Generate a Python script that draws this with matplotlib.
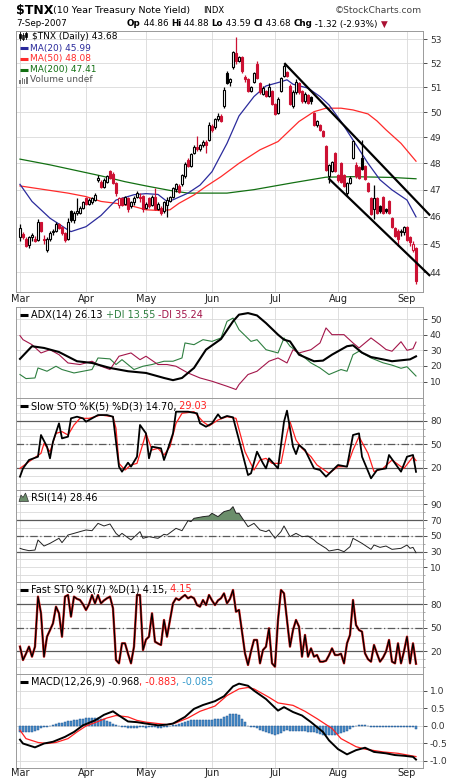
import numpy as np
import pandas as pd
import matplotlib
matplotlib.use('Agg')
import matplotlib.pyplot as plt
import matplotlib.transforms as mtrans
from matplotlib.lines import Line2D
from matplotlib.patches import Rectangle, Polygon
from matplotlib.text import Annotation
from matplotlib.ticker import FixedLocator, NullLocator, FixedFormatter, NullFormatter

plt.rcParams['font.family'] = ['DejaVu Sans']

# ---------------- data ----------------
holidays = ['2007-04-06', '2007-05-28', '2007-07-04', '2007-09-03']
opens = [45.25,45.38,45.20,44.97,45.25,45.20,45.15,45.81,45.20,44.78,
         45.20,45.43,45.48,45.71,45.62,45.39,45.20,46.19,45.86,46.14,
         46.14,46.33,46.67,46.47,46.52,46.62,47.35,47.30,47.11,47.30,
         47.70,47.60,47.25,46.43,46.67,46.48,46.67,46.38,46.52,46.71,
         46.71,46.76,46.33,46.67,46.43,46.71,46.28,46.33,46.19,46.43,
         46.57,46.71,47.01,47.15,47.20,47.50,48.14,47.90,48.39,48.64,
         48.54,48.69,48.84,48.90,49.45,49.40,49.71,49.86,50.23,51.58,
         51.22,51.83,52.41,52.09,52.26,51.44,51.33,50.85,51.22,51.97,
         51.17,50.75,50.85,50.64,50.85,50.33,49.97,50.85,51.48,51.64,
         51.06,50.23,50.80,51.17,50.85,50.44,50.70,50.59,49.97,49.50,
         49.50,49.25,48.65,47.50,47.70,48.40,47.55,48.00,47.55,46.86,
         47.25,48.20,47.95,47.85,48.20,47.90,47.25,46.67,46.28,46.67,
         46.38,46.71,46.28,46.57,45.95,45.58,45.48,45.44,45.44,45.62,
         45.24,44.80,44.86]
highs = [45.72,45.43,45.25,45.30,45.39,45.30,45.91,45.81,45.34,45.25,
         45.48,45.53,45.81,45.76,45.67,45.43,45.95,46.24,46.19,46.67,
         46.38,46.57,46.71,46.67,46.71,46.86,47.55,47.35,47.45,47.55,
         47.75,47.65,47.30,46.71,46.71,46.76,46.71,46.57,46.76,46.96,
         46.86,46.81,46.52,46.71,46.81,47.06,46.52,46.38,46.57,46.71,
         46.76,47.11,47.25,47.20,47.60,48.04,48.19,48.39,48.69,49.04,
         48.74,48.89,48.89,49.60,49.55,49.76,49.96,49.91,51.01,51.68,
         51.38,52.51,53.09,52.31,52.31,51.49,51.38,51.06,51.63,52.08,
         51.22,51.06,50.90,51.17,50.90,50.38,50.59,51.43,51.97,51.69,
         51.12,50.90,51.33,51.22,50.90,50.80,50.75,50.64,50.02,49.70,
         49.55,49.30,48.70,47.99,48.10,48.45,47.60,48.05,47.60,47.30,
         47.50,48.90,48.05,47.90,48.90,47.95,47.30,46.71,47.16,46.71,
         46.43,46.76,46.33,46.62,46.00,45.62,45.53,45.53,45.67,45.67,
         45.29,45.10,44.88]
lows = [45.11,45.20,44.88,44.87,45.11,45.06,45.11,45.43,45.02,44.73,
        45.11,45.34,45.43,45.53,45.34,45.06,45.15,45.81,45.76,46.05,
        46.10,46.28,46.43,46.43,46.47,46.57,47.30,47.06,47.06,47.25,
        47.40,47.20,46.76,46.33,46.38,46.43,46.18,46.33,46.43,46.67,
        46.52,46.18,46.28,46.33,46.38,46.23,46.24,46.05,46.14,45.99,
        46.52,46.67,46.91,46.86,47.15,47.45,47.85,47.85,48.34,48.49,
        48.49,48.64,48.40,48.85,49.20,49.35,49.66,49.61,50.18,51.12,
        51.07,51.77,51.98,52.03,51.61,51.22,50.80,50.80,51.17,51.33,
        50.75,50.70,50.59,50.59,50.28,49.87,49.92,50.80,51.43,51.43,
        50.28,50.18,50.75,50.75,50.38,50.38,50.33,50.33,49.45,49.40,
        49.25,49.00,47.70,47.25,47.65,47.65,47.30,47.25,47.10,46.76,
        47.20,48.15,47.45,47.40,47.75,47.35,46.91,46.05,45.90,46.10,
        46.14,46.10,46.14,46.10,45.58,45.25,44.92,45.29,45.34,45.10,
        44.92,44.70,43.59]
closes = [45.58,45.25,44.92,45.25,45.34,45.11,45.81,45.48,45.15,45.20,
          45.39,45.48,45.71,45.58,45.39,45.15,45.81,45.86,46.14,46.19,
          46.33,46.52,46.47,46.62,46.67,46.81,47.45,47.11,47.35,47.50,
          47.45,47.25,46.86,46.67,46.43,46.71,46.28,46.52,46.67,46.86,
          46.67,46.28,46.48,46.38,46.71,46.28,46.48,46.14,46.52,46.62,
          46.71,47.06,47.20,46.91,47.55,47.99,47.90,48.34,48.64,48.54,
          48.69,48.84,48.70,49.50,49.30,49.71,49.86,49.66,50.90,51.17,
          51.33,52.46,52.09,52.26,51.66,51.33,50.85,51.01,51.58,51.38,
          50.80,50.96,50.64,51.01,50.33,49.92,50.54,51.38,51.87,51.48,
          50.33,50.80,51.22,50.80,50.44,50.75,50.38,50.44,49.50,49.65,
          49.30,49.05,47.75,47.95,48.05,47.70,47.35,47.30,47.15,47.25,
          47.45,48.85,47.50,47.45,47.80,47.40,46.96,46.10,46.67,46.14,
          46.19,46.14,46.19,46.14,45.62,45.29,45.20,45.48,45.62,45.15,
          45.06,45.00,43.68]

ma20_i = [0, 4, 10, 16, 17, 22, 27, 32, 38, 42, 46, 49, 51, 56, 60, 64, 69, 73, 78, 82,
          87, 89, 91, 96, 100, 103, 107, 111, 116, 120, 124, 129, 132]
ma20_v = [47.20, 46.56, 45.94, 45.51, 45.45, 45.63, 46.04, 46.61, 46.81, 46.85, 46.82, 46.56,
          46.62, 46.87, 47.17, 47.68, 48.77, 49.85, 50.63, 51.06, 51.23, 51.31, 51.13, 50.97,
          50.63, 50.29, 49.63, 48.90, 48.00, 47.37, 46.99, 46.61, 45.99]
ma50_i = [0, 16, 22, 27, 32, 38, 42, 47, 50, 53, 58, 62, 67, 73, 80, 86, 93, 98, 102, 107,
          111, 116, 119, 122, 127, 132]
ma50_v = [47.14, 46.87, 46.74, 46.56, 46.49, 46.37, 46.25, 46.22, 46.25, 46.49, 46.80, 47.12,
          47.49, 48.00, 48.52, 48.84, 49.63, 50.02, 50.16, 50.16, 50.09, 49.93, 49.65, 49.30,
          48.77, 48.08]
ma200_i = [0, 10, 27, 35, 42, 50, 56, 69, 78, 91, 102, 111, 124, 132]
ma200_v = [48.16, 47.94, 47.52, 47.30, 47.14, 46.97, 46.87, 46.87, 47.00, 47.26, 47.47, 47.49,
           47.46, 47.41]
trend_upper_i = [88.1, 136.7]
trend_upper_v = [52.0, 46.04]
trend_lower_i = [102.8, 136.7]
trend_lower_v = [47.43, 43.87]

adx_i = [0, 4, 8, 13, 19, 24, 30, 36, 42, 48, 51, 54, 58, 62, 67, 71, 73, 76, 79, 82,
         86, 88, 90, 93, 98, 101, 104, 109, 111, 114, 117, 121, 124, 128, 130, 132]
adx_v = [24.5, 32.6, 31.5, 28.9, 23.0, 21.9, 18.7, 16.6, 15.5, 12.3, 10.9, 12.3, 18.7, 30.4,
         37.2, 48.5, 52.8, 53.8, 52.3, 47.4, 40.0, 36.8, 35.7, 27.2, 23.0, 23.4, 27.2, 32.6,
         33.2, 28.5, 25.7, 24.2, 23.0, 23.8, 24.2, 26.13]
pdi_i = [0, 2, 5, 6, 9, 12, 14, 18, 21, 24, 26, 30, 32, 34, 38, 41, 44, 48, 51, 54,
         55, 58, 61, 64, 67, 69, 71, 73, 77, 79, 82, 86, 88, 90, 93, 97, 100, 103, 107, 109,
         111, 113, 117, 121, 124, 127, 129, 132]
pdi_v = [14.5, 11.9, 12.3, 18.7, 16.6, 19.8, 17.7, 15.5, 16.6, 17.7, 25.1, 24.5, 20.9, 24.0,
         17.7, 19.8, 20.9, 23.0, 23.0, 25.1, 34.7, 33.6, 36.8, 35.7, 37.9, 48.5, 50.6, 43.2,
         35.7, 36.8, 30.4, 28.3, 37.9, 32.6, 28.3, 21.9, 18.7, 14.5, 17.7, 16.6, 27.2, 29.4,
         25.1, 22.0, 20.5, 18.5, 19.5, 13.55]
mdi_i = [0, 1, 4, 7, 10, 13, 16, 20, 24, 27, 30, 33, 37, 40, 42, 46, 49, 52, 56, 60,
         64, 69, 72, 73, 76, 79, 81, 83, 86, 89, 91, 93, 97, 100, 102, 104, 108, 111, 113, 117,
         120, 122, 124, 127, 129, 131, 132]
mdi_v = [39.4, 36.8, 33.6, 28.3, 30.4, 27.2, 21.9, 20.9, 23.0, 19.8, 17.7, 26.2, 28.3, 24.0,
         26.2, 20.9, 20.9, 19.8, 15.5, 12.3, 10.2, 7.0, 4.9, 8.1, 14.5, 16.6, 19.8, 23.0, 25.1,
         21.9, 30.4, 28.3, 30.4, 34.7, 44.3, 40.0, 40.0, 34.7, 31.5, 37.9, 33.6, 30.5, 29.4,
         35.5, 30.0, 31.0, 35.24]

slowk_i = [0, 1, 3, 6, 7, 9, 10, 11, 13, 14, 16, 17, 19, 21, 22, 26, 29, 31, 33, 34,
           36, 37, 39, 40, 42, 43, 44, 47, 48, 49, 51, 52, 56, 59, 60, 62, 64, 66, 67, 69,
           71, 73, 76, 77, 79, 81, 82, 83, 86, 88, 89, 91, 92, 93, 95, 98, 100, 102, 106, 109,
           111, 113, 114, 117, 119, 122, 123, 127, 129, 131, 132]
slowk_v = [8.5, 19.1, 29.8, 34.0, 61.7, 46.8, 31.9, 53.2, 76.6, 57.4, 59.6, 83.0, 85.1, 83.0,
           78.7, 87.2, 87.2, 85.1, 21.3, 14.9, 26.4, 21.3, 34.0, 74.5, 63.8, 31.9, 46.8, 44.7,
           29.8, 40.4, 63.8, 91.5, 91.5, 89.4, 76.6, 72.3, 76.6, 88.1, 83.0, 86.0, 84.3, 55.3,
           10.6, 12.8, 40.4, 25.5, 19.1, 31.9, 19.1, 78.7, 92.8, 46.8, 37.4, 48.9, 42.6, 19.1,
           17.0, 8.5, 23.4, 21.3, 61.7, 63.8, 34.0, 6.4, 17.0, 19.1, 36.2, 14.9, 34.0, 36.2, 14.70]
slowd_i = [0, 3, 7, 8, 10, 12, 14, 16, 18, 20, 23, 27, 31, 32, 33, 35, 37, 39, 42, 44,
           46, 48, 50, 52, 54, 58, 61, 63, 66, 69, 72, 75, 78, 80, 82, 84, 87, 89, 90, 92,
           94, 97, 99, 103, 106, 109, 111, 113, 116, 118, 121, 124, 127, 128, 131, 132]
slowd_v = [19.1, 27.7, 38.3, 51.0, 40.4, 63.8, 66.0, 61.7, 74.5, 83.0, 83.0, 87.2, 85.0, 70.2,
           25.5, 17.0, 23.4, 25.5, 63.8, 42.6, 44.7, 36.2, 46.8, 76.6, 89.4, 91.5, 78.7, 73.2,
           80.9, 85.1, 83.0, 40.4, 17.0, 29.8, 31.9, 25.5, 25.5, 63.8, 78.7, 55.3, 44.7, 34.0,
           23.4, 12.8, 21.3, 21.3, 42.6, 59.6, 38.3, 14.9, 19.1, 29.8, 21.3, 19.1, 34.0, 29.03]

rsi_i = [0, 1, 3, 5, 6, 8, 10, 12, 13, 14, 16, 18, 20, 22, 24, 26, 28, 30, 32, 33,
         34, 37, 40, 41, 43, 46, 48, 49, 52, 54, 56, 57, 58, 61, 63, 64, 66, 68, 70, 71,
         72, 73, 76, 78, 80, 82, 83, 85, 87, 88, 90, 92, 94, 96, 98, 99, 102, 103, 106, 108,
         110, 111, 113, 114, 117, 118, 120, 122, 124, 127, 129, 130, 131, 132]
rsi_v = [34.1, 32.8, 31.1, 31.9, 44.7, 37.0, 40.4, 44.7, 46.8, 41.3, 51.0, 53.1, 55.3, 57.4,
         56.5, 65.8, 62.5, 65.0, 53.1, 49.7, 53.1, 44.7, 55.3, 46.8, 48.9, 46.8, 51.9, 51.0,
         59.5, 56.5, 69.2, 68.0, 72.2, 74.3, 75.2, 78.6, 74.3, 80.7, 82.8, 87.0, 78.6, 78.6,
         61.6, 65.8, 57.4, 55.3, 57.4, 46.8, 55.3, 62.5, 48.9, 53.1, 48.9, 49.7, 44.7, 41.3,
         34.1, 30.7, 32.8, 29.8, 36.2, 46.8, 42.6, 40.4, 32.8, 38.3, 35.3, 37.0, 32.8, 34.1,
         38.3, 34.1, 35.3, 28.46]

fastk = [26, 8.9, 17, 26, 13.2, 26, 89.8, 68.5, 13.2, 38.7,
         47, 55.7, 77, 68.5, 38.7, 89.8, 91.9, 64.3, 89.8, 87,
         85.5, 80, 72.8, 80, 91.9, 81.3, 91.9, 81.3, 85, 87.7,
         89.8, 75, 8.9, 4.7, 30.2, 30.2, 17, 4.7, 26, 91.9,
         91.9, 21.7, 35, 38.7, 68.5, 32.3, 30, 28.1, 60, 38.7,
         60, 81.3, 87.7, 85.5, 89, 91.9, 87.7, 89.8, 87.7, 79.1,
         77, 85.5, 79.1, 91.9, 85, 79.1, 85, 87.7, 94, 81.3,
         87, 98.3, 70.6, 72.8, 45, 17.4, 2.6, 20, 34.5, 34.5,
         4.7, 21.7, 26, 49.4, 4.7, 0.4, 60, 98.3, 94, 60,
         26, 47.2, 60, 51.5, 13.2, 40.9, 13.2, 23.8, 13.2, 15.3,
         6.8, 6.8, 8, 15, 23.8, 15.3, 15.3, 17, 4.7, 30.2,
         40.9, 85.5, 53.6, 47.2, 45.1, 17.4, 10, 6.8, 28.1, 17,
         6.8, 12, 19.6, 34.5, 6.8, 4.7, 30.2, 4.7, 20, 38.7,
         4.7, 30.2, 4.15]

macd_i = [0, 1, 5, 8, 11, 15, 18, 21, 25, 28, 31, 33, 36, 39, 42, 46, 49, 51, 55, 58,
          61, 65, 68, 71, 73, 76, 78, 82, 86, 88, 91, 94, 97, 101, 103, 106, 109, 112, 115, 118,
          122, 125, 128, 131, 132]
macd_v = [-0.40, -0.51, -0.62, -0.51, -0.46, -0.32, -0.18, 0.01, 0.15, 0.31, 0.41, 0.29, 0.12,
          0.10, 0.06, 0.01, 0.03, 0.06, 0.25, 0.48, 0.59, 0.70, 0.84, 1.12, 1.20, 1.14, 1.00,
          0.76, 0.43, 0.53, 0.39, 0.29, 0.10, -0.18, -0.42, -0.67, -0.82, -0.70, -0.63, -0.75,
          -0.79, -0.84, -0.86, -0.89, -0.968]
sig_i = [0, 2, 6, 9, 12, 16, 19, 22, 26, 29, 32, 36, 39, 42, 46, 49, 52, 56, 60, 65,
         69, 73, 76, 78, 83, 86, 91, 95, 99, 104, 107, 112, 115, 121, 126, 132]
sig_v = [-0.13, -0.37, -0.48, -0.51, -0.48, -0.37, -0.18, -0.01, 0.12, 0.22, 0.29, 0.25, 0.15,
         0.10, 0.06, 0.03, 0.08, 0.22, 0.41, 0.56, 0.86, 1.05, 1.09, 1.05, 0.81, 0.65, 0.58,
         0.41, 0.20, -0.08, -0.37, -0.60, -0.67, -0.75, -0.79, -0.883]
hist = [-0.18, -0.18, -0.18, -0.18, -0.18, -0.15, -0.12, -0.08, -0.05, -0.03,
        -0.01, 0.02, 0.06, 0.08, 0.09, 0.10, 0.12, 0.13, 0.15, 0.16,
        0.18, 0.20, 0.21, 0.22, 0.22, 0.22, 0.21, 0.20, 0.18, 0.14,
        0.10, 0.06, 0.03, 0.00, -0.03, -0.05, -0.06, -0.07, -0.07, -0.06,
        -0.05, -0.05, -0.06, -0.05, -0.05, -0.05, -0.06, -0.06, -0.05, -0.03,
        -0.01, 0.01, 0.03, 0.05, 0.08, 0.10, 0.13, 0.15, 0.16, 0.17,
        0.17, 0.17, 0.16, 0.16, 0.17, 0.20, 0.20, 0.20, 0.24, 0.28,
        0.32, 0.33, 0.33, 0.30, 0.20, 0.10, 0.00, -0.03, -0.05, -0.08,
        -0.12, -0.15, -0.18, -0.20, -0.24, -0.27, -0.25, -0.20, -0.15, -0.13,
        -0.14, -0.15, -0.15, -0.15, -0.15, -0.16, -0.17, -0.18, -0.19, -0.22,
        -0.25, -0.27, -0.28, -0.28, -0.27, -0.26, -0.24, -0.22, -0.19, -0.15,
        -0.10, -0.04, 0.00, 0.02, 0.03, 0.02, -0.01, -0.03, -0.04, -0.04,
        -0.04, -0.04, -0.03, -0.03, -0.03, -0.04, -0.05, -0.04, -0.03, -0.03,
        -0.04, -0.05, -0.085]

price_ticks = [44, 45, 46, 47, 48, 49, 50, 51, 52, 53]
adx_ticks = [10, 20, 30, 40, 50]
sto_ticks = [20, 50, 80]
rsi_ticks = [10, 30, 50, 70, 90]
macd_ticks = [-1.0, -0.5, 0.0, 0.5, 1.0]
macd_tick_labels = ['-1.0', '-0.5', '0.0', '0.5', '1.0']

# ---------------- figure ----------------
dates = pd.bdate_range('2007-03-01', '2007-09-07')
dates = dates[~dates.isin(pd.to_datetime(holidays))]
xi = np.arange(len(dates))
month_pos = [i for i in range(len(dates)) if i == 0 or dates[i].month != dates[i - 1].month]
month_lbl = [dates[i].strftime('%b') for i in month_pos]

W, H = 460, 781
fig = plt.figure(figsize=(W / 100, H / 100), dpi=100)
fig.patch.set_facecolor('white')
PX = mtrans.Affine2D().scale(1 / W, -1 / H).translate(0, 1) + fig.transFigure

RED = '#cc1133'
GRID = '#d9d9d9'
DARK = '#5a5a5a'
C20, C50, C200 = '#2b2b9c', '#ff2a2a', '#137013'
CPDI, CMDI = '#2e7f40', '#a3164a'


def panel(top, bottom):
    return fig.add_axes([16 / W, 1 - bottom / H, (423 - 16) / W, (bottom - top) / H])


def style(ax, ylim, ticks, labels, hgrid, log=False, minor=None):
    if log:
        ax.set_yscale('log')
    ax.set_xlim(-1.33, 134.33)
    ax.set_ylim(*ylim)
    ax.yaxis.set_major_locator(FixedLocator(ticks))
    ax.yaxis.set_major_formatter(FixedFormatter(labels))
    ax.yaxis.set_minor_locator(FixedLocator(minor) if minor is not None else NullLocator())
    ax.yaxis.set_minor_formatter(NullFormatter())
    ax.yaxis.tick_right()
    ax.tick_params(axis='y', which='major', labelsize=6.6, length=3, width=0.6,
                   colors='#333333', pad=2)
    ax.tick_params(axis='y', which='minor', length=1.5, width=0.5, colors='#888888')
    ax.set_xticks([])
    for v in hgrid:
        ax.axhline(v, color=GRID, lw=0.6, zorder=0)
    for m in month_pos:
        ax.axvline(m, color=GRID, lw=0.6, zorder=0)
    for s in ax.spines.values():
        s.set_color('#9a9a9a')
        s.set_linewidth(0.7)


def month_labels(ax, off_pt):
    for m, lab in zip(month_pos, month_lbl):
        ax.annotate(lab, xy=(m, 0), xycoords=('data', 'axes fraction'),
                    xytext=(0, -off_pt), textcoords='offset points', ha='center',
                    va='center', fontsize=7, color='#222222', annotation_clip=False)


def chain(x, y, parts, size=6.6, bbox=None):
    first = parts[0]
    t = fig.text(x / W, 1 - y / H, first[0], color=first[1], fontweight=first[2],
                 fontsize=size, ha='left', va='center', parse_math=False, bbox=bbox)
    for s, cc, wt in parts[1:]:
        a = Annotation(s, xy=(1, 0), xycoords=t, ha='left', va='bottom', color=cc,
                       fontweight=wt, fontsize=size, parse_math=False, bbox=bbox)
        fig.add_artist(a)
        t = a
    return t


def hline_ref(ax, vals, dashed=None):
    for v in vals:
        ax.axhline(v, color=DARK, lw=0.9, zorder=1)
    if dashed is not None:
        ax.axhline(dashed, color=DARK, lw=0.9, ls=(0, (6, 2, 1, 2)), zorder=1)


def dash_icon(y, color):
    fig.add_artist(Line2D([20, 28], [y, y], transform=PX, color=color, lw=2.2,
                          solid_capstyle='butt'))


# ---- price panel ----
ax0 = panel(31, 292)
style(ax0, (43.31, 53.35), price_ticks, [str(v) for v in price_ticks], price_ticks, log=True)
o, h, l, c = map(np.array, (opens, highs, lows, closes))
prev = np.r_[c[0], c[:-1]]
col = np.where(c >= prev, 'black', RED)
hollow = c > o
face = np.where(hollow, 'white', col)
ax0.plot(ma200_i, ma200_v, color=C200, lw=0.9, zorder=2)
ax0.plot(ma50_i, ma50_v, color=C50, lw=0.9, zorder=2)
ax0.plot(ma20_i, ma20_v, color=C20, lw=0.9, zorder=2)
ax0.vlines(xi, l, h, colors=col, lw=0.9, zorder=3)
ax0.bar(xi, np.maximum(np.abs(c - o), 0.04), bottom=np.minimum(o, c), width=0.78,
        color=face, edgecolor=col, linewidth=0.8, zorder=4)
ax0.plot(trend_upper_i, trend_upper_v, color='black', lw=1.6, zorder=6, clip_on=False,
         solid_capstyle='butt')
ax0.plot(trend_lower_i, trend_lower_v, color='black', lw=1.6, zorder=6, clip_on=False,
         solid_capstyle='butt')
month_labels(ax0, 4.7)

# ---- ADX ----
ax1 = panel(307, 397.5)
style(ax1, (-0.2, 57.7), adx_ticks, [str(v) for v in adx_ticks], adx_ticks)
ax1.plot(pdi_i, pdi_v, color=CPDI, lw=0.8, zorder=2)
ax1.plot(mdi_i, mdi_v, color=CMDI, lw=0.8, zorder=2)
ax1.plot(adx_i, adx_v, color='black', lw=1.5, zorder=3)

# ---- Slow STO ----
ax2 = panel(397.5, 490)
tens = list(range(0, 101, 10))
style(ax2, (-8.5, 109.6), sto_ticks, [str(v) for v in sto_ticks], tens, minor=tens)
hline_ref(ax2, [20, 80], dashed=50)
ax2.plot(slowd_i, slowd_v, color='#ff2020', lw=0.9, zorder=3)
ax2.plot(slowk_i, slowk_v, color='black', lw=1.3, zorder=4)

# ---- RSI ----
ax3 = panel(490, 582)
style(ax3, (-8.7, 108.2), rsi_ticks, [str(v) for v in rsi_ticks], tens, minor=tens)
hline_ref(ax3, [30, 70], dashed=50)
rv = np.array(rsi_v)
ax3.fill_between(rsi_i, rv, 70, where=rv >= 70, interpolate=True, color='#6b8e6b',
                 edgecolor='none', zorder=2)
ax3.plot(rsi_i, rsi_v, color='#222222', lw=0.7, zorder=3)

# ---- Fast STO ----
ax4 = panel(582, 673.5)
style(ax4, (-8.3, 108.5), sto_ticks, [str(v) for v in sto_ticks], tens, minor=tens)
hline_ref(ax4, [20, 80], dashed=50)
ax4.plot(xi, fastk, color='#dd2020', lw=1.7, zorder=3)
ax4.plot(xi, fastk, color='black', lw=0.9, zorder=4)

# ---- MACD ----
ax5 = panel(673.5, 767.5)
style(ax5, (-1.195, 1.49), macd_ticks, macd_tick_labels, macd_ticks)
ax5.bar(xi, hist, width=0.9, color='#4a90cc', edgecolor='#1f5590', linewidth=0.35, zorder=2)
ax5.plot(sig_i, sig_v, color='#ff2020', lw=0.9, zorder=3)
ax5.plot(macd_i, macd_v, color='black', lw=1.4, zorder=4)
month_labels(ax5, 4.2)

# ---------------- texts ----------------
chain(16, 10.5, [('$TNX', 'black', 'bold')], size=9)
fig.text(53 / W, 1 - 10.5 / H, '(10 Year Treasury Note Yield)', fontsize=6.8, ha='left',
         va='center', parse_math=False)
fig.text(203 / W, 1 - 10.5 / H, 'INDX', fontsize=6.0, ha='left', va='center')
fig.text(422 / W, 1 - 10.5 / H, '\u00a9StockCharts.com', fontsize=6.6, ha='right',
         va='center', color='#444444')
fig.text(16 / W, 1 - 24 / H, '7-Sep-2007', fontsize=6.3, ha='left', va='center')
chain(127, 24, [('Op', 'black', 'bold'), (' 44.86 ', 'black', 'normal'),
                ('Hi', 'black', 'bold'), (' 44.88 ', 'black', 'normal'),
                ('Lo', 'black', 'bold'), (' 43.59 ', 'black', 'normal'),
                ('Cl', 'black', 'bold'), (' 43.68 ', 'black', 'normal'),
                ('Chg', 'black', 'bold'), (' -1.32 (-2.93%) ', 'black', 'normal'),
                ('\u25bc', '#aa1133', 'normal')], size=6.3)

# main legend
chain(32, 36.5, [('$TNX (Daily) 43.68', 'black', 'normal')], size=6.5)
for cx, y0, y1, b0, b1, fc in [(20.5, 32, 40, 33.5, 38, 'black'), (23.5, 33, 40, 35, 38.5, 'white'),
                                (26.5, 32, 39, 33, 36.5, 'black')]:
    fig.add_artist(Line2D([cx, cx], [y0, y1], transform=PX, color='black', lw=0.6))
    fig.add_artist(Rectangle((cx - 1, b0), 2, b1 - b0, transform=PX, facecolor=fc,
                             edgecolor='black', lw=0.5))
dash_icon(48.3, C20)
chain(30, 48.3, [('MA(20) 45.99', C20, 'normal')], size=6.5)
dash_icon(59, C50)
chain(30, 59, [('MA(50) 48.08', C50, 'normal')], size=6.5)
dash_icon(69.7, C200)
chain(30, 69.7, [('MA(200) 47.41', C200, 'normal')], size=6.5)
for k, hh in enumerate([4, 6, 5, 7]):
    fig.add_artist(Rectangle((19.5 + 2.2 * k, 83.5 - hh), 1.6, hh, transform=PX,
                             facecolor='#777777', edgecolor='none'))
chain(29.5, 80, [('Volume undef', '#555555', 'normal')], size=6.5)

# indicator legends
dash_icon(314.5, 'black')
chain(31, 314.5, [('ADX(14) 26.13 ', 'black', 'normal'), ('+DI 13.55 ', CPDI, 'normal'),
                  ('-DI 35.24', CMDI, 'normal')], size=7)
dash_icon(406, 'black')
chain(31, 406, [('Slow STO %K(5) %D(3) 14.70,', 'black', 'normal'),
                (' 29.03', '#ff2020', 'normal')], size=7)
fig.add_artist(Polygon([(19, 501.5), (21, 495), (23, 497.5), (25.5, 493), (28.5, 501.5)],
                       closed=True, transform=PX, facecolor='#6b8e6b', edgecolor='#333333',
                       lw=0.5))
chain(31, 497.5, [('RSI(14) 28.46', 'black', 'normal')], size=7)
dash_icon(589.5, 'black')
chain(31, 589.5, [('Fast STO %K(7) %D(1) 4.15,', 'black', 'normal'),
                  (' 4.15', '#ff2020', 'normal')], size=7)
dash_icon(682, 'black')
wb = dict(facecolor='white', edgecolor='none', pad=0.6)
chain(31, 682, [('MACD(12,26,9) -0.968', 'black', 'normal'), (', -0.883', '#ff2020', 'normal'),
                (', -0.085', '#3399cc', 'normal')], size=7, bbox=wb)

fig.savefig('out.png', dpi=100, facecolor='white')
